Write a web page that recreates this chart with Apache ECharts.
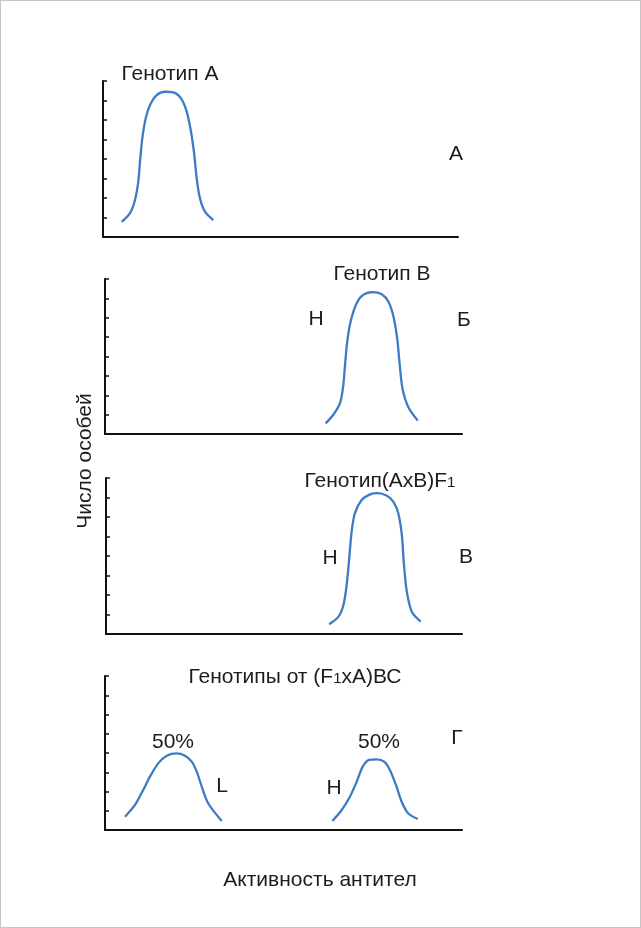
<!DOCTYPE html>
<html>
<head>
<meta charset="utf-8">
<script src="https://cdn.jsdelivr.net/npm/echarts@6/dist/echarts.min.js"></script>
<style>
html,body{margin:0;padding:0;background:#fff;}
#chart{width:641px;height:928px;}
</style>
</head>
<body>
<div id="chart"></div>
<script>
// ---- data (x: antibody activity 0..100, y: number of individuals 0..8) ----
const yTicks = [0, 8, 1]; // min, max, interval
const genotypeA = [[5.27,0.78],[7.61,1.22],[9.01,1.90],[9.94,2.84],[10.42,3.86],[11.07,5.06],[12.03,6.09],[13.24,6.77],[15.13,7.28],[17.46,7.45],[19.80,7.42],[21.97,7.11],[23.58,6.43],[24.79,5.40],[25.72,4.21],[26.39,3.01],[27.32,1.98],[28.73,1.30],[31.07,0.87]];
const genotypeB = [[61.8,0.55],[63.9,0.98],[65.8,1.58],[66.7,2.44],[67.2,3.48],[67.8,4.69],[68.8,5.81],[70.5,6.75],[72.3,7.18],[75.0,7.32],[77.5,7.21],[79.4,6.83],[80.8,6.06],[81.9,4.85],[82.6,3.48],[83.4,2.27],[84.9,1.41],[87.6,0.69]];
const genotypeF1 = [[62.7,0.50],[65.3,0.89],[66.7,1.49],[67.6,2.51],[68.4,4.05],[69.0,5.25],[69.9,6.19],[71.8,6.87],[74.2,7.16],[76.3,7.22],[78.9,7.09],[80.7,6.79],[82.1,6.19],[83.1,5.08],[83.7,3.54],[84.5,2.17],[85.9,1.14],[88.4,0.63]];
const backcrossL = [[5.6,0.69],[8.4,1.30],[10.7,2.08],[12.6,2.77],[14.9,3.46],[17.3,3.86],[20.1,3.98],[22.4,3.86],[24.3,3.55],[25.7,3.03],[27.1,2.25],[28.9,1.39],[32.7,0.47]];
const backcrossH = [[63.7,0.47],[66.3,1.04],[68.6,1.73],[70.5,2.51],[72.2,3.29],[74.0,3.64],[76.1,3.67],[78.2,3.55],[79.8,3.12],[81.5,2.34],[83.1,1.47],[84.9,0.87],[87.6,0.57]];
const panelTitles = ['Генотип А', 'Генотип В', 'Генотип(АхВ)F', 'Генотипы от (F', 'хА)ВС'];
const panelLetters = ['А', 'Б', 'В', 'Г'];
const yTitle = 'Число особей';
const xTitle = 'Активность антител';

const chart = echarts.init(document.getElementById('chart'), null, {renderer: 'canvas'});
const FONT = '"Liberation Sans", Arial, sans-serif';
const TXT = '#1c1c1c';
const BLUE = '#3d7cc4';
const FS = 21;

const grids = [
  {left: 103, top: 81, width: 355, height: 156},
  {left: 105, top: 279, width: 357, height: 155},
  {left: 106, top: 478, width: 356, height: 156},
  {left: 105, top: 676, width: 357, height: 154}
];

const xAxes = grids.map((g, i) => ({
  type: 'value', gridIndex: i, min: 0, max: 100,
  axisLine: {show: true, onZero: false, lineStyle: {color: '#111', width: 2}},
  axisTick: {show: false}, axisLabel: {show: false}, splitLine: {show: false}
}));
const yAxes = grids.map((g, i) => ({
  type: 'value', gridIndex: i, min: yTicks[0], max: yTicks[1], interval: yTicks[2],
  axisLine: {show: true, lineStyle: {color: '#111', width: 2}},
  axisTick: {show: true, inside: true, length: 4, lineStyle: {color: '#111', width: 1.5}},
  axisLabel: {show: false}, splitLine: {show: false}
}));

function curve(data, idx) {
  return {
    type: 'line', xAxisIndex: idx, yAxisIndex: idx, data: data,
    smooth: 0.3, showSymbol: false, silent: true,
    lineStyle: {color: BLUE, width: 2.3}
  };
}

function txt(x, y, text) {
  return {type: 'text', x: x, y: y, silent: true,
    style: {text: text, fill: TXT, font: FS + 'px ' + FONT, align: 'center', verticalAlign: 'middle'}};
}
function rich(x, y, a, c) {
  return {type: 'text', x: x, y: y, silent: true,
    style: {
      text: '{a|' + a + '}{b|1}' + (c ? '{a|' + c + '}' : ''),
      align: 'center', verticalAlign: 'middle',
      rich: {
        a: {fontSize: FS, fontFamily: FONT, fill: TXT, color: TXT, lineHeight: 23, verticalAlign: 'bottom'},
        b: {fontSize: 15, fontFamily: FONT, fill: TXT, color: TXT, lineHeight: 17, verticalAlign: 'bottom', padding: [0, 0, 1, 0]}
      }
    }};
}

const option = {
  animation: false,
  backgroundColor: '#fff',
  grid: grids,
  xAxis: xAxes,
  yAxis: yAxes,
  series: [
    curve(genotypeA, 0),
    curve(genotypeB, 1),
    curve(genotypeF1, 2),
    curve(backcrossL, 3),
    curve(backcrossH, 3)
  ],
  graphic: [
    {type: 'rect', silent: true, shape: {x: 0.5, y: 0.5, width: 640, height: 927},
      style: {fill: 'none', stroke: '#8c8c8c', lineWidth: 1, lineDash: [1, 1]}},
    txt(170, 74, panelTitles[0]),
    txt(456, 154, panelLetters[0]),
    txt(382, 274, panelTitles[1]),
    txt(316, 319, 'Н'),
    txt(464, 320, panelLetters[1]),
    rich(380, 480, panelTitles[2]),
    txt(330, 558, 'Н'),
    txt(466, 557, panelLetters[2]),
    rich(295, 676, panelTitles[3], panelTitles[4]),
    txt(173, 742, '50%'),
    txt(379, 742, '50%'),
    txt(457, 738, panelLetters[3]),
    txt(222, 786, 'L'),
    txt(334, 788, 'Н'),
    txt(320, 880, xTitle),
    {type: 'text', x: 85, y: 461, rotation: Math.PI / 2, silent: true,
      style: {text: yTitle, fill: TXT, font: FS + 'px ' + FONT, align: 'center', verticalAlign: 'middle'}}
  ]
};
chart.setOption(option);
</script>
</body>
</html>
